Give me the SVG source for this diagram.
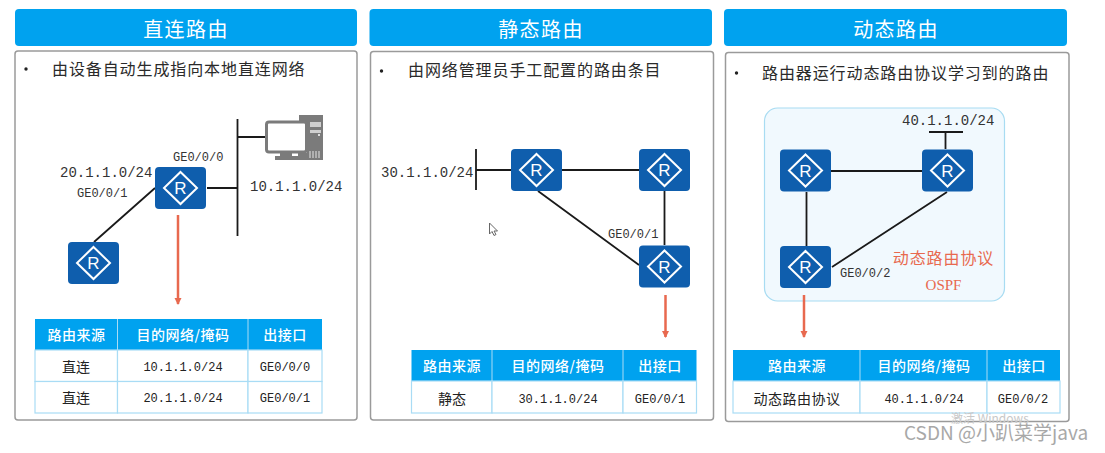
<svg xmlns="http://www.w3.org/2000/svg" width="1105" height="453" viewBox="0 0 1105 453">
<style>
text{font-family:"Noto Sans CJK SC","Liberation Sans",sans-serif;fill:#222}
.hdr{fill:#00a2ef}
.hdrt{font-size:20px;fill:#fff;text-anchor:middle;letter-spacing:1.4px}
.panel{fill:#fff;stroke:#9a9a9a;stroke-width:1.5}
.bul{font-size:16px;letter-spacing:.9px;fill:#2a2a2a}
.dot{fill:#222}
.mono{font-family:"Liberation Mono",monospace}
.net{font-size:14px;fill:#333}
.gi{font-size:12px;fill:#333}
.link{stroke:#1a1a1a;stroke-width:1.8;fill:none}
.red{stroke:#e8694f;stroke-width:2.5;fill:none}
.rt{fill:#0f5ead}
.dm{fill:none;stroke:#fff;stroke-width:2}
.rl{font-family:"Liberation Sans",sans-serif;font-size:17px;fill:#fff;text-anchor:middle}
.th{fill:#00a2ef}
.tb{fill:#fff;stroke:#a9dcf5;stroke-width:1.2}
.tht{font-size:14px;fill:#fff;text-anchor:middle;font-weight:500;letter-spacing:.5px}
.td{font-size:14px;text-anchor:middle;fill:#222}
.tdm{font-family:"Liberation Mono",monospace;font-size:12px;text-anchor:middle;fill:#222}
</style>
<defs>
<marker id="ah" markerWidth="8" markerHeight="8" refX="6" refY="3.5" orient="auto" markerUnits="userSpaceOnUse"><path d="M0 0L7 3.5L0 7Z" fill="#e8694f"/></marker>
<g id="router"><rect width="51" height="42" rx="4" class="rt"/><path d="M25.5 5L42 21L25.5 37L9 21Z" class="dm"/><text x="25.5" y="27" class="rl">R</text></g>
</defs>
<rect width="1105" height="453" fill="#fff"/>

<g id="panel-direct">
<rect x="15" y="9" width="342" height="37" rx="4" class="hdr"/>
<text x="186" y="37" class="hdrt">直连路由</text>
<rect x="15" y="51" width="342" height="369" rx="3" class="panel"/>
<circle cx="26" cy="69" r="1.7" class="dot"/>
<text x="52" y="75" class="bul">由设备自动生成指向本地直连网络</text>
</g>
<g id="panel-static">
<rect x="369.500" y="9" width="342.500" height="37" rx="4" class="hdr"/>
<text x="541" y="37" class="hdrt">静态路由</text>
<rect x="370.500" y="51.500" width="343" height="368.500" rx="3" class="panel"/>
<circle cx="381.500" cy="71" r="1.700" class="dot"/>
<text x="408" y="76" class="bul">由网络管理员手工配置的路由条目</text>
</g>
<g id="panel-dynamic">
<rect x="724" y="9" width="343" height="37" rx="4" class="hdr"/>
<text x="896" y="37" class="hdrt">动态路由</text>
<rect x="725.500" y="52.500" width="343.500" height="369" rx="3" class="panel"/>
<circle cx="736.500" cy="73" r="1.700" class="dot"/>
<text x="762" y="79" class="bul">路由器运行动态路由协议学习到的路由</text>
<rect id="ospf-area" x="764.500" y="108" width="240" height="193" rx="13" fill="#f1f9fe" stroke="#a8dcf2" stroke-width="1.2"/>
</g>

<g id="connectors">
<path class="link" d="M237.500 119V236M207 188H237.500M238 137H265M155 188L94 242"/>
<path class="link" d="M476 149V190M476 170H511M562 170H639M538 191L639 265M664.500 191V245"/>
<path class="link" d="M929 132H963M945.500 132V149M831 171H922M947 192L832 267M806.500 192V246"/>
<path class="red" d="M178 215V304" marker-end="url(#ah)"/>
<path class="red" d="M665.500 295V337" marker-end="url(#ah)"/>
<path class="red" d="M804 295V337" marker-end="url(#ah)"/>
</g>

<g id="r-direct-1"><use href="#router" x="155" y="167"/></g>
<g id="r-direct-2"><use href="#router" x="68" y="242"/></g>
<g id="r-static-1"><use href="#router" x="511" y="149"/></g>
<g id="r-static-2"><use href="#router" x="639" y="149"/></g>
<g id="r-static-3"><use href="#router" x="639" y="245.500"/></g>
<g id="r-dyn-1"><use href="#router" x="780" y="149.500"/></g>
<g id="r-dyn-2"><use href="#router" x="922" y="149.500"/></g>
<g id="r-dyn-3"><use href="#router" x="780" y="246"/></g>

<g id="pc">
<path d="M299 115H323V160H298V153H307V122H299Z" fill="#7b7b7b"/>
<path d="M310 122H321V127H310ZM310 130H321V133H310Z" fill="#cfcfcf"/>
<circle cx="319" cy="135" r="1" fill="#fff"/>
<path d="M310 151V158M313 151V158M316 151V158M319 151V158" stroke="#e6e6e6" stroke-width="1"/>
<rect x="266.500" y="122" width="40" height="30" rx="2.500" fill="#fff" stroke="#7b7b7b" stroke-width="3"/>
<path d="M280 153H292V156H298V160H275V156H280Z" fill="#7b7b7b"/>
</g>

<g id="labels">
<text x="60" y="177" class="mono net">20.1.1.0/24</text>
<text x="77" y="197" class="mono gi">GE0/0/1</text>
<text x="173" y="161" class="mono gi">GE0/0/0</text>
<text x="250" y="191" class="mono net">10.1.1.0/24</text>
<text x="381" y="177" class="mono net">30.1.1.0/24</text>
<text x="608" y="238" class="mono gi">GE0/0/1</text>
<text x="902" y="125" class="mono net">40.1.1.0/24</text>
<text x="840" y="277" class="mono gi">GE0/0/2</text>
<text x="943.500" y="264" font-size="16" text-anchor="middle" style="fill:#e8694f;letter-spacing:.9px">动态路由协议</text>
<text x="943.500" y="290" font-size="15" text-anchor="middle" style="fill:#e8694f;font-family:'Liberation Serif',serif">OSPF</text>
</g>

<g id="cursor"><path d="M489.500 223V234L492 231.500L494 235.500L496 234.500L494 231H497.500Z" fill="#fff" stroke="#666" stroke-width="1"/></g>

<g id="table-direct">
<rect x="35" y="319" width="287" height="31" class="th"/>
<rect x="35" y="350" width="82.500" height="31.500" class="tb"/><rect x="117.500" y="350" width="130.500" height="31.500" class="tb"/><rect x="248" y="350" width="74" height="31.500" class="tb"/>
<rect x="35" y="381.500" width="82.500" height="31.500" class="tb"/><rect x="117.500" y="381.500" width="130.500" height="31.500" class="tb"/><rect x="248" y="381.500" width="74" height="31.500" class="tb"/>
<path d="M117.500 319V350M248 319V350" stroke="#a9dcf5"/>
<text x="76.500" y="340" class="tht">路由来源</text><text x="183" y="340" class="tht">目的网络/掩码</text><text x="285" y="340" class="tht">出接口</text>
<text x="76" y="372" class="td">直连</text><text x="183" y="371" class="tdm">10.1.1.0/24</text><text x="285" y="371" class="tdm">GE0/0/0</text>
<text x="76" y="403" class="td">直连</text><text x="183" y="402" class="tdm">20.1.1.0/24</text><text x="285" y="402" class="tdm">GE0/0/1</text>
</g>
<g id="table-static">
<rect x="411.500" y="350" width="285" height="31" class="th"/>
<rect x="411.500" y="381" width="80.500" height="32" class="tb"/><rect x="492" y="381" width="131" height="32" class="tb"/><rect x="623" y="381" width="73.500" height="32" class="tb"/>
<path d="M492 350V381M623 350V381" stroke="#a9dcf5"/>
<text x="452" y="371" class="tht">路由来源</text><text x="558" y="371" class="tht">目的网络/掩码</text><text x="660" y="371" class="tht">出接口</text>
<text x="452" y="404" class="td">静态</text><text x="558" y="403" class="tdm">30.1.1.0/24</text><text x="660" y="403" class="tdm">GE0/0/1</text>
</g>
<g id="table-dynamic">
<rect x="733" y="350" width="327" height="31" class="th"/>
<rect x="733" y="381" width="127" height="32" class="tb"/><rect x="860" y="381" width="127" height="32" class="tb"/><rect x="987" y="381" width="73" height="32" class="tb"/>
<path d="M860 350V381M987 350V381" stroke="#a9dcf5"/>
<text x="797" y="371" class="tht">路由来源</text><text x="924" y="371" class="tht">目的网络/掩码</text><text x="1024" y="371" class="tht">出接口</text>
<text x="797" y="404" class="td" style="letter-spacing:.5px">动态路由协议</text><text x="924" y="403" class="tdm">40.1.1.0/24</text><text x="1023" y="403" class="tdm">GE0/0/2</text>
</g>

<g id="watermark">
<text x="951" y="423" font-size="12" style="fill:#c8c8c8">激活 Windows</text>
<text x="904" y="440" font-size="19" style="fill:#a8a8a8">CSDN @小趴菜学java</text>
</g>
</svg>
